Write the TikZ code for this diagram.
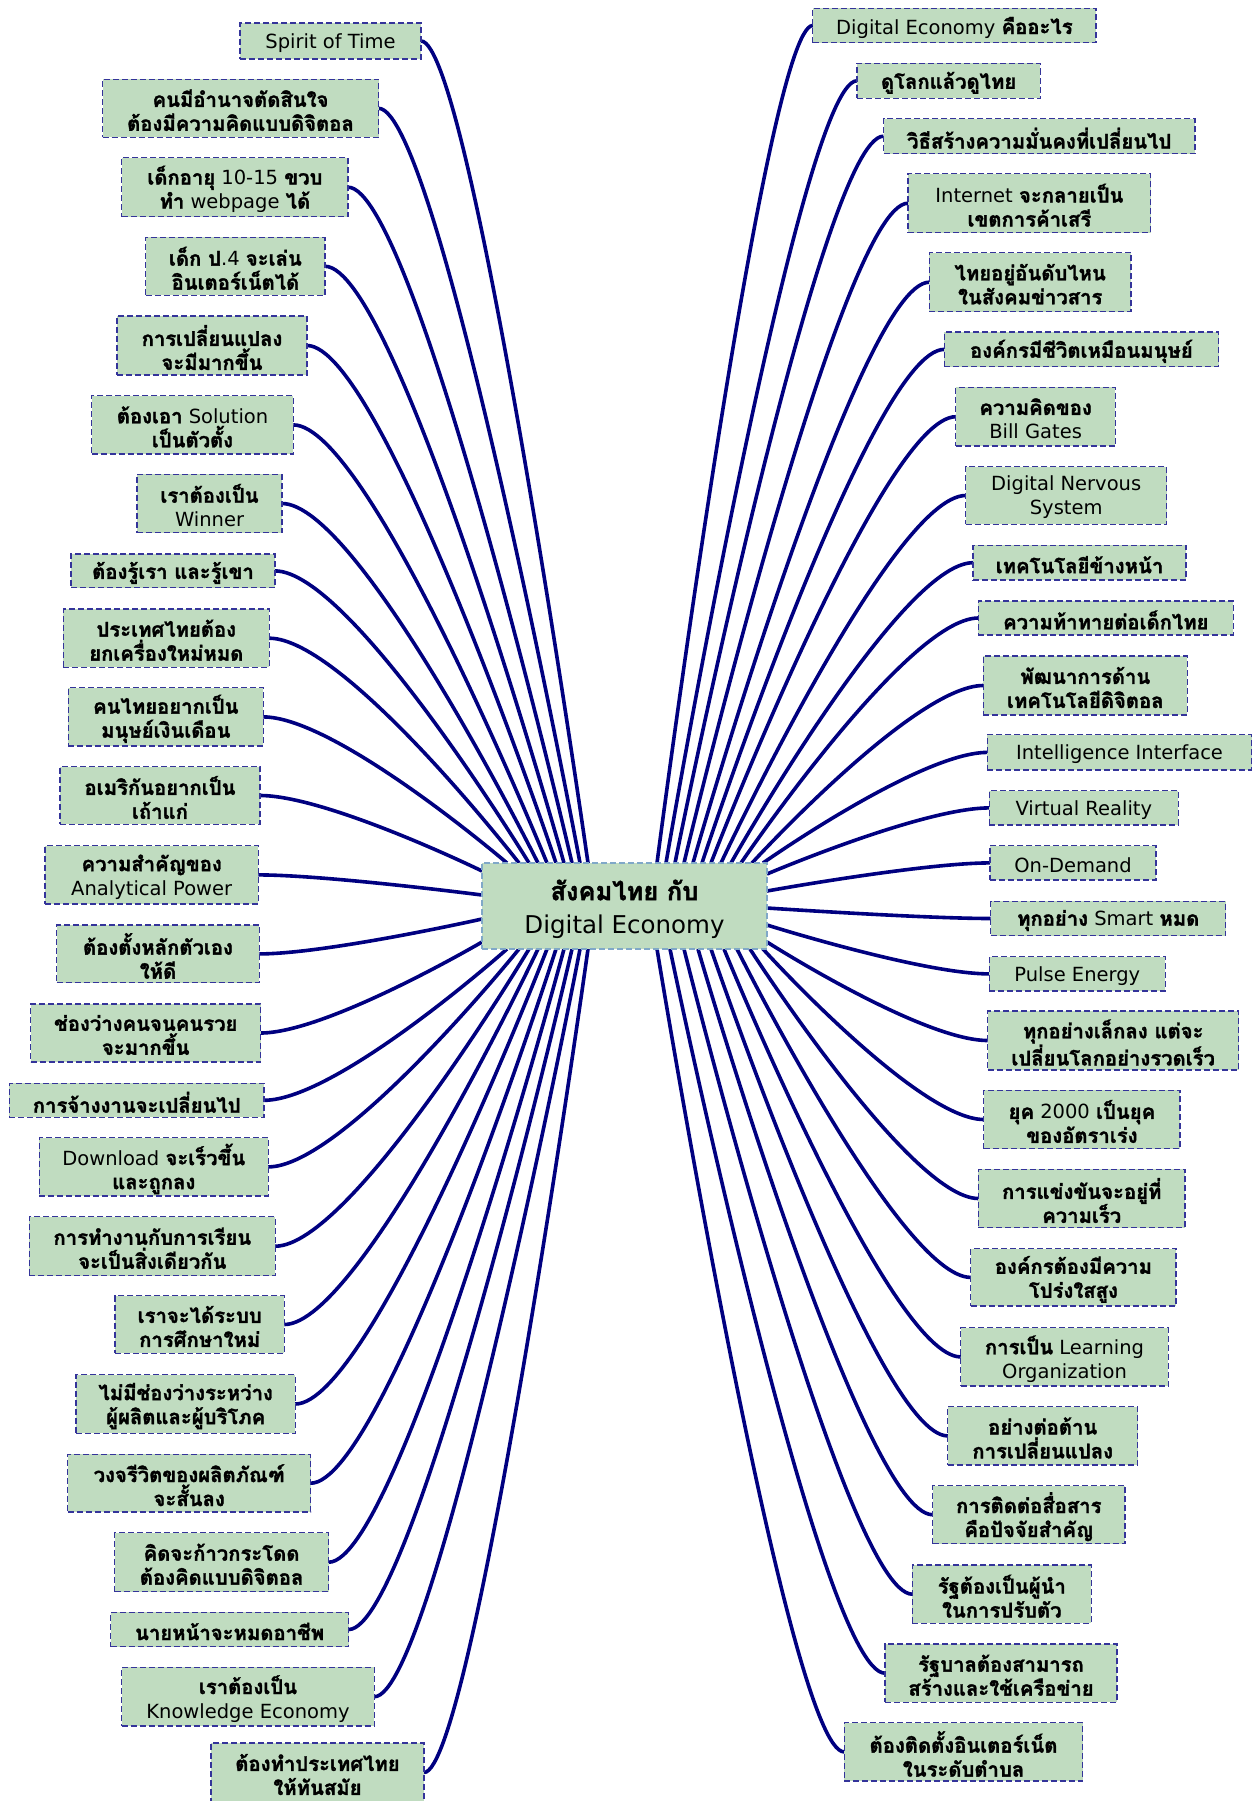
\documentclass[tikz,border=0pt]{standalone}
\usepackage{fontspec}
\setmainfont{DejaVu Sans}
\newfontfamily\thaifont[Script=Thai,Scale=1.04,BoldFeatures={FakeBold=1.6}]{Loma}
\usetikzlibrary{calc}
\definecolor{mgreen}{HTML}{C0DCC0}
\definecolor{navyline}{HTML}{000080}
\definecolor{leafborder}{HTML}{34349A}
\definecolor{hubborder}{HTML}{80A8C8}
\newcommand\tb[1]{{\thaifont\bfseries #1}}
\newcommand\ctext[2]{\vbox{\kern#1\let\\\cr\halign{\hfil##\hfil\cr#2\cr}}}
\newcommand\lf[6]{\node[leaf,minimum width=#4pt,minimum height=#5pt] (#1) at (#2,#3) {\ctext{4pt}{#6}};}
\newcommand\cn[3]{\draw[conn] (#1) .. controls +(#3,0) and (#2) .. (#2);}
\pgfdeclarelayer{bg}
\pgfdeclarelayer{edges}
\pgfsetlayers{bg,edges,main}
\tikzset{
  leaf/.style={draw=leafborder, line width=1.2pt, dash pattern=on 6pt off 3pt, fill=mgreen,
    inner sep=0pt, outer sep=0pt, text=black, font=\fontsize{19.5}{24}\selectfont},
  hub/.style={draw=hubborder, line width=1.2pt, dash pattern=on 6pt off 3pt, fill=mgreen,
    inner sep=0pt, outer sep=0pt, text=black, font=\fontsize{24.5}{33}\selectfont},
  conn/.style={draw=navyline, line width=3.6pt}
}
\begin{document}
\begin{tikzpicture}[x=1pt,y=-1pt]
\useasboundingbox (0,0) rectangle (1257,1801);
\begin{pgfonlayer}{bg}
\fill[white] (0,0) rectangle (1257,1801);
\end{pgfonlayer}

\node[hub, minimum width=285pt, minimum height=86pt] (C) at (624.5,906) {\ctext{6pt}{\tb{สังคมไทย กับ}\\Digital Economy}};

% left nodes
\lf{L1}{330.5}{41}{181}{36}{Spirit of Time}
\lf{L2}{240.5}{108.3}{276}{58}{\tb{คนมีอำนาจตัดสินใจ}\\\tb{ต้องมีความคิดแบบดิจิตอล}}
\lf{L3}{234.9}{187.2}{226.3}{59}{\tb{เด็กอายุ} 10-15 \tb{ขวบ}\\\tb{ทำ} webpage \tb{ได้}}
\lf{L4}{235.4}{266.3}{179.2}{58}{\tb{เด็ก ป}.4 \tb{จะเล่น}\\\tb{อินเตอร์เน็ตได้}}
\lf{L5}{212}{345.5}{190}{59}{\tb{การเปลี่ยนแปลง}\\\tb{จะมีมากขึ้น}}
\lf{L6}{192.5}{424.9}{201.7}{58.3}{\tb{ต้องเอา} Solution\\\tb{เป็นตัวตั้ง}}
\lf{L7}{209.5}{503.5}{145}{58.4}{\tb{เราต้องเป็น}\\Winner}
\lf{L8}{173}{570.9}{204}{33.7}{\tb{ต้องรู้เรา และรู้เขา}}
\lf{L9}{166.3}{638.2}{206}{58.3}{\tb{ประเทศไทยต้อง}\\\tb{ยกเครื่องใหม่หมด}}
\lf{L10}{165.8}{716.9}{195}{58.3}{\tb{คนไทยอยากเป็น}\\\tb{มนุษย์เงินเดือน}}
\lf{L11}{160}{795.5}{200}{57.6}{\tb{อเมริกันอยากเป็น}\\\tb{เถ้าแก่}}
\lf{L12}{151.7}{874.9}{213.3}{58.3}{\tb{ความสำคัญของ}\\Analytical Power}
\lf{L13}{158}{953.9}{202.6}{57.7}{\tb{ต้องตั้งหลักตัวเอง}\\\tb{ให้ดี}}
\lf{L14}{145.7}{1033}{230}{58}{\tb{ช่องว่างคนจนคนรวย}\\\tb{จะมากขึ้น}}
\lf{L15}{136.7}{1100.3}{254.7}{34}{\tb{การจ้างงานจะเปลี่ยนไป}}
\lf{L16}{153.8}{1166.9}{229}{58.3}{Download \tb{จะเร็วขึ้น}\\\tb{และถูกลง}}
\lf{L17}{152.3}{1246.2}{246}{59}{\tb{การทำงานกับการเรียน}\\\tb{จะเป็นสิ่งเดียวกัน}}
\lf{L18}{199.7}{1324.5}{169.3}{57.6}{\tb{เราจะได้ระบบ}\\\tb{การศึกษาใหม่}}
\lf{L19}{185.7}{1404}{219.3}{58.6}{\tb{ไม่มีช่องว่างระหว่าง}\\\tb{ผู้ผลิตและผู้บริโภค}}
\lf{L20}{189.2}{1483.2}{243}{57.7}{\tb{วงจรีวิตของผลิตภัณฑ์}\\\tb{จะสั้นลง}}
\lf{L21}{221.6}{1562.2}{214.1}{59}{\tb{คิดจะก้าวกระโดด}\\\tb{ต้องคิดแบบดิจิตอล}}
\lf{L22}{229.6}{1629.5}{238.2}{34.4}{\tb{นายหน้าจะหมดอาชีพ}}
\lf{L23}{248}{1696.7}{252.7}{58.7}{\tb{เราต้องเป็น}\\Knowledge Economy}
\lf{L24}{317.5}{1772.5}{212.9}{59}{\tb{ต้องทำประเทศไทย}\\\tb{ให้ทันสมัย}}

% right nodes
\lf{R1}{954.4}{25.5}{283.2}{34.4}{Digital Economy \tb{คืออะไร}}
\lf{R2}{948.6}{80.8}{183.2}{35}{\tb{ดูโลกแล้วดูไทย}}
\lf{R3}{1039.2}{136.2}{311.4}{35}{\tb{วิธีสร้างความมั่นคงที่เปลี่ยนไป}}
\lf{R4}{1029.4}{203.2}{242.7}{59}{Internet \tb{จะกลายเป็น}\\\tb{เขตการค้าเสรี}}
\lf{R5}{1030.2}{282.2}{201.7}{59}{\tb{ไทยอยู่อันดับไหน}\\\tb{ในสังคมข่าวสาร}}
\lf{R6}{1081.4}{349.4}{274.4}{34.7}{\tb{องค์กรมีชีวิตเหมือนมนุษย์}}
\lf{R7}{1035.6}{416.7}{159.5}{58.7}{\tb{ความคิดของ}\\Bill Gates}
\lf{R8}{1066.2}{495.5}{201}{57.6}{Digital Nervous\\System}
\lf{R9}{1079.5}{562.7}{213}{34.7}{\tb{เทคโนโลยีข้างหน้า}}
\lf{R10}{1105.8}{618}{255}{34}{\tb{ความท้าทายต่อเด็กไทย}}
\lf{R11}{1085.3}{685.5}{204}{59}{\tb{พัฒนาการด้าน}\\\tb{เทคโนโลยีดิจิตอล}}
\lf{R12}{1119.5}{752.4}{264.4}{35.3}{Intelligence Interface}
\lf{R13}{1083.8}{807.9}{189}{34.3}{Virtual Reality}
\lf{R14}{1073}{862.9}{166}{34.3}{On-Demand}
\lf{R15}{1108.2}{918.5}{235}{34.4}{\tb{ทุกอย่าง} Smart \tb{หมด}}
\lf{R16}{1077.3}{973.9}{176}{34.3}{Pulse Energy}
\lf{R17}{1113.2}{1040.5}{251}{59}{\tb{ทุกอย่างเล็กลง แต่จะ}\\\tb{เปลี่ยนโลกอย่างรวดเร็ว}}
\lf{R18}{1081.9}{1119.5}{196.3}{58.4}{\tb{ยุค} 2000 \tb{เป็นยุค}\\\tb{ของอัตราเร่ง}}
\lf{R19}{1081.7}{1198.5}{206.7}{58.4}{\tb{การแข่งขันจะอยู่ที่}\\\tb{ความเร็ว}}
\lf{R20}{1073.4}{1277.4}{205.3}{57.3}{\tb{องค์กรต้องมีความ}\\\tb{โปร่งใสสูง}}
\lf{R21}{1064.5}{1356.9}{207.6}{58.3}{\tb{การเป็น} Learning\\Organization}
\lf{R22}{1042.7}{1435.9}{190}{58.3}{\tb{อย่างต่อต้าน}\\\tb{การเปลี่ยนแปลง}}
\lf{R23}{1028.8}{1514.7}{192.5}{58}{\tb{การติดต่อสื่อสาร}\\\tb{คือปัจจัยสำคัญ}}
\lf{R24}{1001.8}{1594.2}{178.8}{58.3}{\tb{รัฐต้องเป็นผู้นำ}\\\tb{ในการปรับตัว}}
\lf{R25}{1001}{1673.2}{231.9}{58.3}{\tb{รัฐบาลต้องสามารถ}\\\tb{สร้างและใช้เครือข่าย}}
\lf{R26}{963.5}{1751.9}{238.7}{58.3}{\tb{ต้องติดตั้งอินเตอร์เน็ต}\\\tb{ในระดับตำบล}}

\begin{pgfonlayer}{edges}
% left connectors
\cn{L1.east}{$(C.north west)+(106,0)$}{50}
\cn{L2.east}{$(C.north west)+(98,0)$}{60}
\cn{L3.east}{$(C.north west)+(90,0)$}{67}
\cn{L4.east}{$(C.north west)+(82,0)$}{72}
\cn{L5.east}{$(C.north west)+(74,0)$}{75}
\cn{L6.east}{$(C.north west)+(65,0)$}{76}
\cn{L7.east}{$(C.north west)+(56,0)$}{77}
\cn{L8.east}{$(C.north west)+(47,0)$}{76}
\cn{L9.east}{$(C.north west)+(37,0)$}{75}
\cn{L10.east}{$(C.north west)+(25,0)$}{73}
\cn{L11.east}{$(C.north west)+(0,8)$}{67}
\cn{L12.east}{$(C.north west)+(0,32)$}{67}
\cn{L13.east}{$(C.north west)+(0,56)$}{67}
\cn{L14.east}{$(C.north west)+(0,79)$}{66}
\cn{L15.east}{$(C.south west)+(25,0)$}{73}
\cn{L16.east}{$(C.south west)+(37,0)$}{75}
\cn{L17.east}{$(C.south west)+(47,0)$}{76}
\cn{L18.east}{$(C.south west)+(56,0)$}{76}
\cn{L19.east}{$(C.south west)+(65,0)$}{76}
\cn{L20.east}{$(C.south west)+(74,0)$}{74}
\cn{L21.east}{$(C.south west)+(82,0)$}{71}
\cn{L22.east}{$(C.south west)+(90,0)$}{67}
\cn{L23.east}{$(C.south west)+(98,0)$}{62}
\cn{L24.east}{$(C.south west)+(106,0)$}{49}
% right connectors
\cn{R1.west}{$(C.north east)+(-110,0)$}{-47}
\cn{R2.west}{$(C.north east)+(-101,0)$}{-57}
\cn{R3.west}{$(C.north east)+(-92,0)$}{-63}
\cn{R4.west}{$(C.north east)+(-83,0)$}{-67}
\cn{R5.west}{$(C.north east)+(-74,0)$}{-71}
\cn{R6.west}{$(C.north east)+(-65,0)$}{-73}
\cn{R7.west}{$(C.north east)+(-56,0)$}{-73}
\cn{R8.west}{$(C.north east)+(-46,0)$}{-73}
\cn{R9.west}{$(C.north east)+(-36,0)$}{-73}
\cn{R10.west}{$(C.north east)+(-26,0)$}{-71}
\cn{R11.west}{$(C.north east)+(-15,0)$}{-69}
\cn{R12.west}{$(C.north east)+(-4,0)$}{-67}
\cn{R13.west}{$(C.north east)+(0,11)$}{-67}
\cn{R14.west}{$(C.north east)+(0,28)$}{-67}
\cn{R15.west}{$(C.north east)+(0,45)$}{-67}
\cn{R16.west}{$(C.north east)+(0,62)$}{-67}
\cn{R17.west}{$(C.north east)+(0,79)$}{-66}
\cn{R18.west}{$(C.south east)+(-4,0)$}{-66}
\cn{R19.west}{$(C.south east)+(-17,0)$}{-68}
\cn{R20.west}{$(C.south east)+(-30,0)$}{-70}
\cn{R21.west}{$(C.south east)+(-43,0)$}{-71}
\cn{R22.west}{$(C.south east)+(-56,0)$}{-71}
\cn{R23.west}{$(C.south east)+(-69,0)$}{-70}
\cn{R24.west}{$(C.south east)+(-83,0)$}{-68}
\cn{R25.west}{$(C.south east)+(-97,0)$}{-65}
\cn{R26.west}{$(C.south east)+(-110,0)$}{-56}
\end{pgfonlayer}
\end{tikzpicture}
\end{document}
